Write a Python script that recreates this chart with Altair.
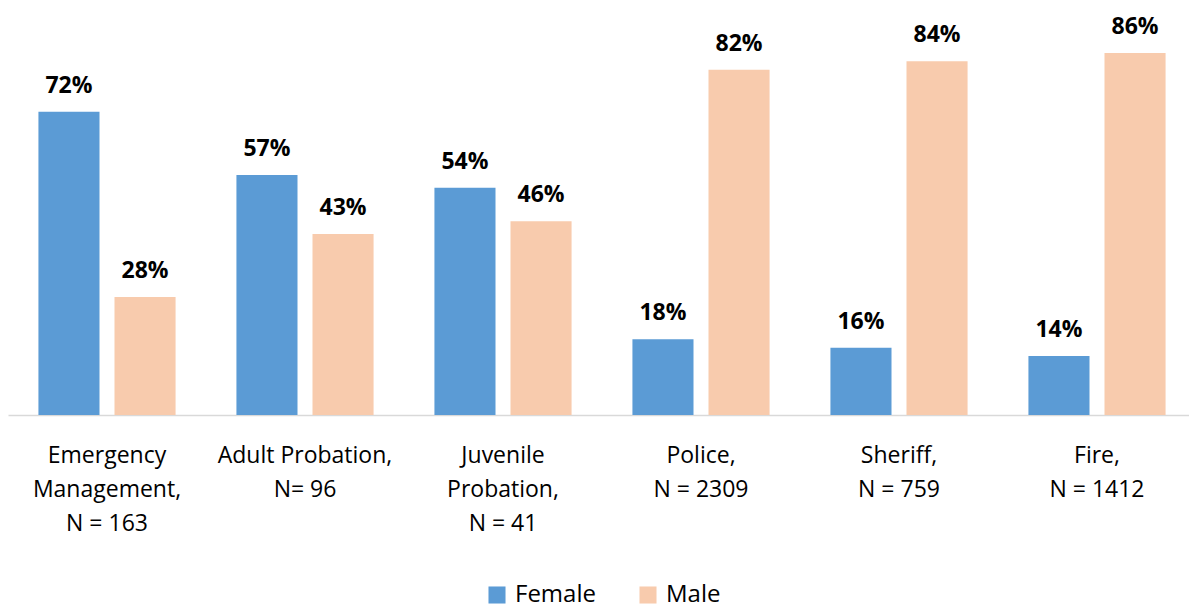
import altair as alt
import pandas as pd

categories = ["Emergency|Management,|N = 163", "Adult Probation,|N= 96", "Juvenile|Probation,|N = 41",
              "Police,|N = 2309", "Sheriff,|N = 759", "Fire,|N = 1412"]
female = [72, 57, 54, 18, 16, 14]
male = [28, 43, 46, 82, 84, 86]
series = ["Female", "Male"]
colors = ["#5b9bd5", "#f8cbad"]

rows = []
for c, f, m in zip(categories, female, male):
    rows.append({"cat": c, "gender": "Female", "value": f})
    rows.append({"cat": c, "gender": "Male", "value": m})
df = pd.DataFrame(rows)
df["label"] = df["value"].astype(str) + "%"

FONT = "Open Sans"

x = alt.X("cat:N", sort=categories, title=None,
          scale=alt.Scale(paddingInner=0, paddingOuter=0, range=[0, 1188]),
          axis=alt.Axis(labelExpr="split(datum.label, '|')", labelAngle=0, labelFontSize=23,
                        labelFont=FONT, labelColor="#000000", labelLineHeight=34,
                        labelPadding=29, ticks=False, domainColor="#d9d9d9", domainWidth=1.5,
                        labelBaseline="top"))
xo = alt.XOffset("gender:N", sort=series,
                 scale=alt.Scale(paddingInner=0.197, paddingOuter=0.4))
y = alt.Y("value:Q", scale=alt.Scale(domain=[0, 95]), axis=None)

bars = alt.Chart(df).mark_bar().encode(
    x=x, xOffset=xo, y=y,
    color=alt.Color("gender:N", sort=series, scale=alt.Scale(domain=series, range=colors),
                    legend=alt.Legend(title=None, orient="none", direction="horizontal",
                                      legendX=477, legendY=568, symbolType="square",
                                      symbolSize=290, symbolStrokeWidth=0, labelFontSize=24,
                                      labelFont=FONT, labelColor="#000000", columnPadding=40,
                                      labelOffset=6)),
)
text = alt.Chart(df).mark_text(fontSize=23, font=FONT, fontWeight="bold", dy=-19,
                               baseline="alphabetic", color="#000000").encode(
    x=x, xOffset=xo, y=y, text="label:N")

chart = (bars + text).properties(
    width=1181, height=400,
    autosize=alt.AutoSizeParams(type="none"),
    padding={"left": 8, "top": 15, "right": 0, "bottom": 193},
).configure_view(stroke=None)

chart.save("out.html", embed_options={"renderer": "svg", "actions": False})
